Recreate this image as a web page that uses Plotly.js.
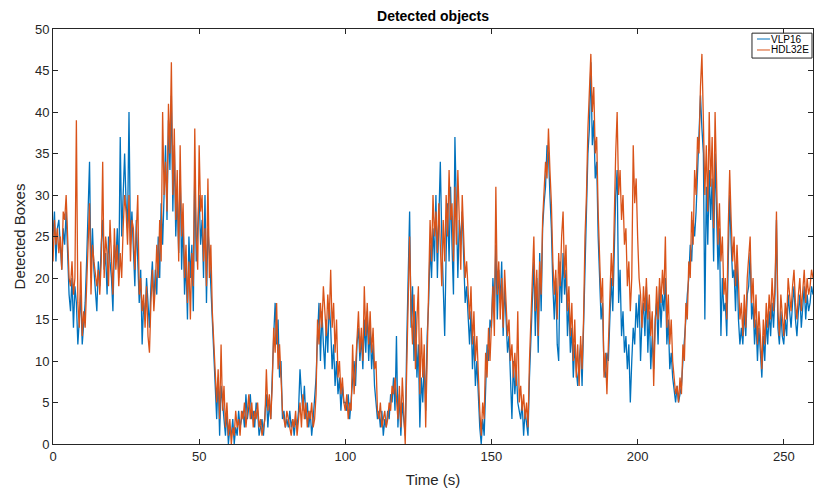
<!DOCTYPE html>
<html>
<head>
<meta charset="utf-8">
<script src="https://cdn.plot.ly/plotly-3.0.1.min.js"></script>
<style>html,body{margin:0;padding:0;background:#fff;}#chart{width:814px;height:491px;}</style>
</head>
<body>
<div id="chart"></div>
<script>
// Sampling step of the recordings (seconds)
const sampleStep = 0.5;

// HDL32E detected boxes, one value every 0.5 s from t = 0 to 260 s
const hdl32e = [
22,27,24,26,23,25,21,28,27,30,
25,20,19,22,18,20,39,17,14,22,
13,16,14,20,25,29,18,24,22,20,
19,21,18,22,34,20,25,23,19,27,
22,18,26,21,24,19,23,20,26,30,
28,24,30,22,27,26,21,25,30,18,
20,16,18,14,19,13,11,17,21,16,
19,24,20,27,22,40,30,34,28,41,
35,46,30,38,27,33,22,36,25,29,
20,24,17,22,15,23,19,38,25,21,
36,28,30,22,26,19,32,20,24,16,
12,8,5,9,3,12,4,7,2,5,
1,3,0,2,1,4,2,3,1,4,
3,5,2,4,6,3,5,2,4,3,
5,2,3,1,2,3,9,4,6,3,
7,14,11,17,9,12,8,4,3,2,
4,3,2,1,3,2,4,1,3,5,
2,6,3,5,2,4,3,5,2,3,
6,15,12,17,14,19,16,13,18,15,
21,14,17,11,15,8,10,6,8,5,
4,6,3,5,4,12,6,9,13,16,
11,14,10,19,13,17,12,16,11,14,
9,10,4,3,5,2,3,4,2,3,
5,4,7,6,8,5,3,7,2,8,
4,0,9,18,25,16,12,18,9,15,
19,6,14,8,12,2,10,20,27,22,
30,25,28,23,29,24,19,27,22,30,
25,33,27,29,22,31,24,33,26,21,
30,24,20,22,18,15,19,12,16,10,
13,8,4,1,5,3,11,8,14,10,
16,19,13,31,18,22,15,20,14,21,
17,13,15,10,12,8,11,7,16,5,
7,4,6,3,5,2,10,14,20,25,
16,21,13,22,18,27,30,34,32,38,
33,29,22,18,21,15,23,19,25,28,
20,24,16,19,13,17,10,15,8,12,
7,13,9,15,25,30,38,44,47,40,
43,35,37,28,22,17,20,8,11,6,
12,17,23,19,28,35,40,30,33,27,
30,24,26,19,22,16,20,36,29,32,
25,20,18,14,19,16,20,15,18,13,
16,7,14,19,15,20,17,21,18,25,
14,18,12,15,10,8,6,7,5,8,
6,12,10,17,15,22,20,28,24,33,
30,37,35,43,47,39,30,36,28,40,
31,37,26,40,33,24,29,22,25,18,
20,15,26,33,27,22,25,19,24,18,
15,17,13,18,14,20,22,25,17,20,
14,18,12,16,13,9,15,12,17,14,
18,15,20,16,19,28,16,13,18,15,
13,17,15,20,18,16,19,21,17,15,
18,20,16,19,21,17,20,18,19,21,
20
];

// VLP16 detected boxes, one value every 0.5 s from t = 0 to 260 s
const vlp16 = [
25,28,22,26,27,23,21,26,24,28,
23,18,16,20,14,19,17,12,15,18,
12,15,17,22,27,34,20,26,21,18,
16,22,19,24,27,21,23,18,25,22,
20,16,24,22,26,20,37,25,30,35,
29,26,40,24,28,23,19,27,22,17,
21,12,17,15,20,16,14,19,22,17,
21,18,25,20,29,24,32,36,27,39,
33,42,28,36,25,30,23,33,21,27,
18,22,15,25,20,24,16,33,22,26,
30,24,27,20,30,17,26,23,19,15,
10,6,3,8,1,7,5,3,1,4,
0,2,1,3,0,2,1,4,2,3,
4,2,6,3,5,6,3,4,2,5,
4,1,2,3,1,4,6,2,5,3,
9,13,17,12,15,8,10,3,4,2,
3,2,4,2,3,1,3,2,4,9,
6,4,7,3,5,2,4,1,3,5,
8,13,17,10,16,12,9,15,11,17,
14,9,12,7,10,6,8,4,7,5,
5,4,6,3,5,8,10,7,12,14,
10,13,9,15,11,16,10,14,9,12,
7,5,3,4,2,4,1,3,2,4,
3,6,5,8,4,13,2,6,1,5,
3,1,12,22,28,14,19,10,16,8,
12,2,8,5,10,4,13,17,24,20,
26,22,30,20,27,34,25,18,13,23,
29,22,31,24,18,37,30,20,27,24,
28,21,17,19,15,12,16,9,13,7,
10,5,2,0,3,1,8,12,10,15,
14,20,16,24,15,21,17,22,13,19,
15,11,13,8,3,10,6,9,5,4,
3,5,1,4,2,1,8,12,17,22,
13,20,11,23,16,26,29,31,36,35,
30,26,19,15,20,12,10,22,17,23,
18,21,13,17,11,14,8,12,9,7,
10,12,7,14,22,28,35,38,46,36,
39,32,34,25,19,15,17,9,8,11,
10,14,20,16,24,30,33,17,21,13,
16,11,13,9,12,5,10,14,12,17,
14,18,10,15,17,13,19,11,16,9,
13,9,15,17,12,19,14,18,16,20,
12,15,9,11,8,6,5,7,5,6,
7,10,12,15,18,20,24,22,27,25,
28,33,36,42,38,35,15,31,24,33,
27,32,22,35,28,21,26,13,20,16,
17,13,22,30,24,20,21,16,22,15,
12,14,12,16,13,18,19,23,15,17,
12,15,10,14,11,8,13,10,15,12,
16,13,17,14,18,27,14,12,16,13,
12,15,13,18,16,14,17,19,15,13,
16,18,14,17,19,15,18,16,17,19,
18
];

const seriesNames = ['VLP16', 'HDL32E'];
const seriesColors = ['#0072BD', '#D95319'];
const xTicks = [0, 50, 100, 150, 200, 250];
const yTicks = [0, 5, 10, 15, 20, 25, 30, 35, 40, 45, 50];

const timeVlp = vlp16.map((_, i) => i * sampleStep);
const timeHdl = hdl32e.map((_, i) => i * sampleStep);

const axisColor = '#262626';
const fontFam = '"Liberation Sans", Arial, Helvetica, sans-serif';

const traces = [
  {x: timeVlp, y: vlp16, type: 'scatter', mode: 'lines', name: seriesNames[0],
   line: {color: seriesColors[0], width: 1.3}},
  {x: timeHdl, y: hdl32e, type: 'scatter', mode: 'lines', name: seriesNames[1],
   line: {color: seriesColors[1], width: 1.3}}
];

const axisCommon = {
  showgrid: false, zeroline: false, showline: true, mirror: 'ticks',
  linecolor: axisColor, linewidth: 1, ticks: 'inside', ticklen: 5,
  tickcolor: axisColor, tickwidth: 1,
  tickfont: {family: fontFam, size: 13, color: axisColor}
};

// compact MATLAB-style legend box (drawn in plot-area coordinates)
const lgX0 = 0.9197, lgX1 = 0.9987, lgY0 = 0.930, lgY1 = 0.990;
const lgLineX0 = 0.9263, lgLineX1 = 0.9434, lgTextX = 0.9440;
const lgRowY = [0.9759, 0.9494];

const shapes = [
  {type: 'rect', xref: 'paper', yref: 'paper', x0: lgX0, x1: lgX1, y0: lgY0, y1: lgY1,
   line: {color: axisColor, width: 1}, fillcolor: '#ffffff', layer: 'above'}
];
const annotations = [];
seriesNames.forEach((nm, i) => {
  shapes.push({type: 'line', xref: 'paper', yref: 'paper', x0: lgLineX0, x1: lgLineX1,
    y0: lgRowY[i], y1: lgRowY[i], line: {color: seriesColors[i], width: 1}, layer: 'above'});
  annotations.push({xref: 'paper', yref: 'paper', x: lgTextX, y: lgRowY[i], text: nm,
    showarrow: false, xanchor: 'left', yanchor: 'middle', align: 'left', borderpad: 0,
    font: {family: fontFam, size: 10, color: '#000'}});
});

const layout = {
  width: 814, height: 491,
  margin: {l: 53, r: 1, t: 29, b: 47},
  paper_bgcolor: '#ffffff', plot_bgcolor: '#ffffff',
  showlegend: false,
  shapes: shapes,
  annotations: annotations,
  title: {text: '<b>Detected objects</b>', x: 0.532, xanchor: 'center', y: 0.967, yanchor: 'middle',
          font: {family: fontFam, size: 14, color: '#000'}},
  xaxis: Object.assign({}, axisCommon, {
    range: [0, 260], tickvals: xTicks, ticktext: xTicks.map(String),
    title: {text: 'Time (s)', font: {family: fontFam, size: 15, color: axisColor}, standoff: 11}
  }),
  yaxis: Object.assign({}, axisCommon, {
    range: [0, 50], tickvals: yTicks, ticktext: yTicks.map(String),
    title: {text: 'Detected Boxes', font: {family: fontFam, size: 15, color: axisColor}, standoff: 5}
  })
};

Plotly.newPlot('chart', traces, layout, {displayModeBar: false, staticPlot: true});
</script>
</body>
</html>
